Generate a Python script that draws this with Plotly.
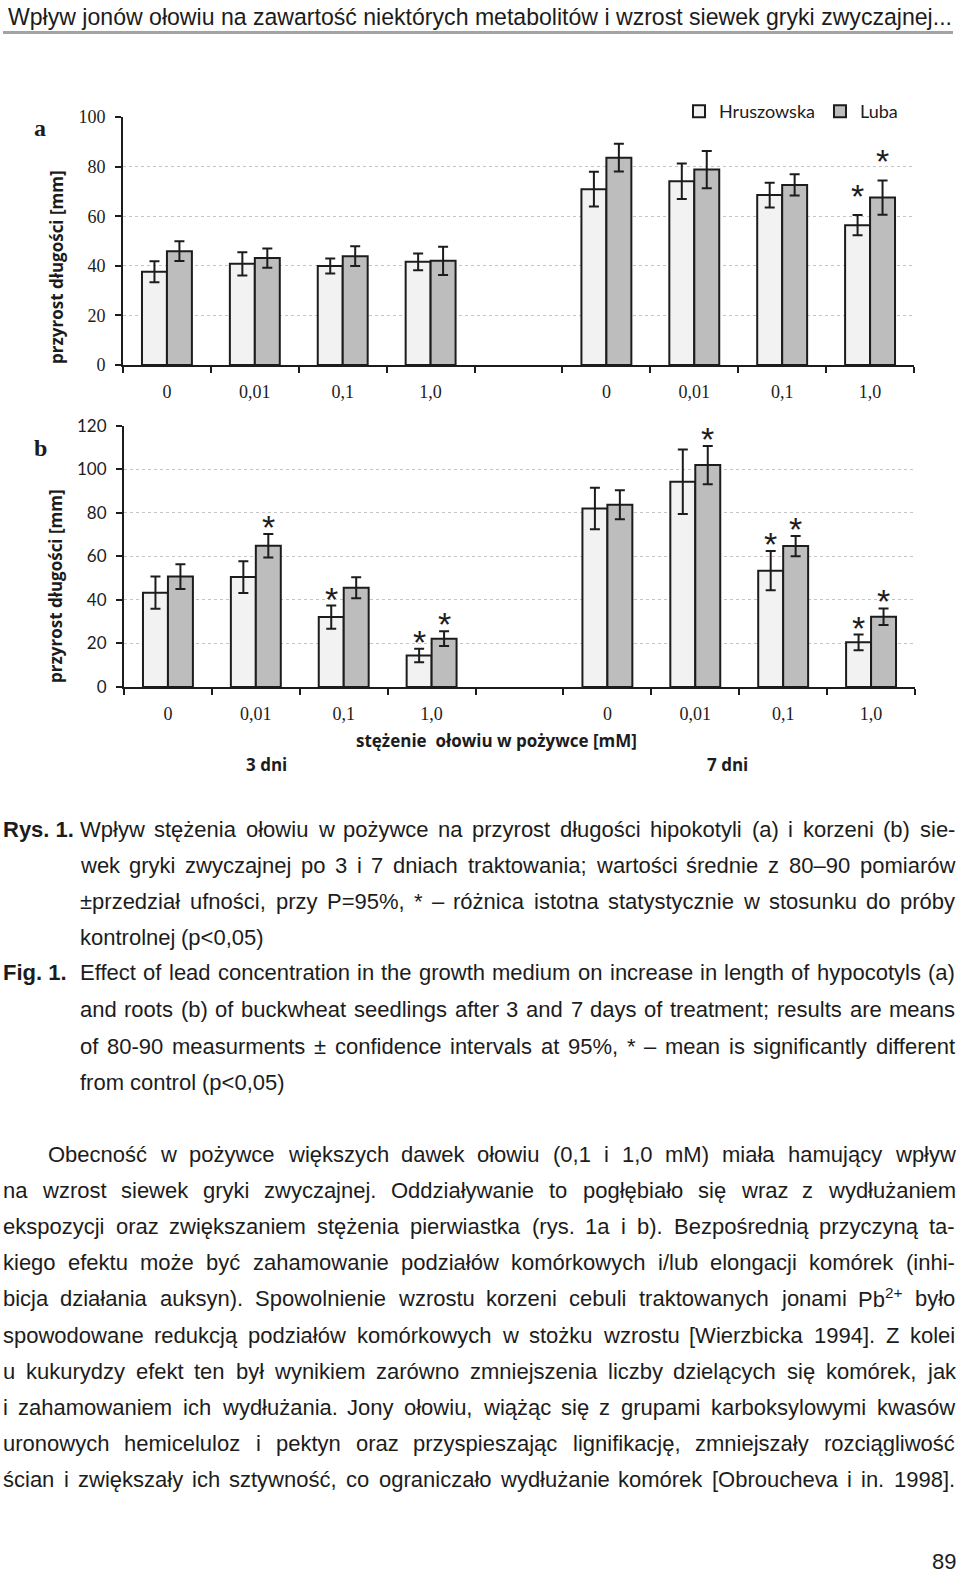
import re
import plotly.graph_objects as go

W, H = 960, 1577

# ---------------- data ----------------
conc_labels = ["0", "0,01", "0,1", "1,0"]
day_labels = ["3 dni", "7 dni"]
series_names = ["Hruszowska", "Luba"]

# (a) hypocotyl length increase [mm]: 3 dni (0, 0.01, 0.1, 1.0), then 7 dni
hypo_hrusz = [37.6, 40.8, 39.9, 41.6, 70.9, 74.1, 68.5, 56.4]
hypo_hrusz_ci = [4.2, 4.7, 3.0, 3.4, 7.0, 7.2, 5.0, 4.1]
hypo_luba = [45.9, 43.1, 43.9, 42.0, 83.6, 78.8, 72.6, 67.5]
hypo_luba_ci = [4.0, 3.9, 4.0, 5.7, 5.6, 7.5, 4.3, 6.9]
hypo_hrusz_sig = [0, 0, 0, 0, 0, 0, 0, 1]
hypo_luba_sig = [0, 0, 0, 0, 0, 0, 0, 1]

# (b) root length increase [mm]
root_hrusz = [43.3, 50.5, 32.1, 14.5, 82.0, 94.3, 53.4, 20.5]
root_hrusz_ci = [7.4, 7.3, 5.3, 3.1, 9.5, 14.8, 9.0, 3.6]
root_luba = [50.7, 64.9, 45.6, 22.2, 83.7, 101.9, 64.7, 32.3]
root_luba_ci = [5.7, 5.4, 4.8, 3.4, 6.7, 8.8, 4.6, 3.8]
root_hrusz_sig = [0, 0, 1, 1, 0, 0, 1, 1]
root_luba_sig = [0, 1, 0, 1, 0, 1, 1, 1]

header_text = "Wpływ jonów ołowiu na zawartość niektórych metabolitów i wzrost siewek gryki zwyczajnej..."
caption_pl = [
    "Wpływ stężenia ołowiu w pożywce na przyrost długości hipokotyli (a) i korzeni (b) sie-",
    "wek gryki zwyczajnej po 3 i 7 dniach traktowania; wartości średnie z 80–90 pomiarów",
    "±przedział ufności, przy P=95%, * – różnica istotna statystycznie w stosunku do próby",
    "kontrolnej (p<0,05)",
]
caption_en = [
    "Effect of lead concentration in the growth medium on increase in length of hypocotyls (a)",
    "and roots (b) of buckwheat seedlings after 3 and 7 days of treatment; results are means",
    "of 80-90 measurments ± confidence intervals at 95%, * – mean is significantly different",
    "from control (p<0,05)",
]
body = [
    "Obecność w pożywce większych dawek ołowiu (0,1 i 1,0 mM) miała hamujący wpływ",
    "na wzrost siewek gryki zwyczajnej. Oddziaływanie to pogłębiało się wraz z wydłużaniem",
    "ekspozycji oraz zwiększaniem stężenia pierwiastka (rys. 1a i b). Bezpośrednią przyczyną ta-",
    "kiego efektu może być zahamowanie podziałów komórkowych i/lub elongacji komórek (inhi-",
    "bicja działania auksyn). Spowolnienie wzrostu korzeni cebuli traktowanych jonami Pb<sup>2+</sup> było",
    "spowodowane redukcją podziałów komórkowych w stożku wzrostu [Wierzbicka 1994]. Z kolei",
    "u kukurydzy efekt ten był wynikiem zarówno zmniejszenia liczby dzielących się komórek, jak",
    "i zahamowaniem ich wydłużania. Jony ołowiu, wiążąc się z grupami karboksylowymi kwasów",
    "uronowych hemiceluloz i pektyn oraz przyspieszając lignifikację, zmniejszały rozciągliwość",
    "ścian i zwiększały ich sztywność, co ograniczało wydłużanie komórek [Obroucheva i in. 1998].",
]
page_number = "89"

# ---------------- fonts / helpers ----------------
SANS = "Liberation Sans, Arial, sans-serif"
SERIF = "Liberation Serif, Times New Roman, serif"
CAL = "Lato, Open Sans, sans-serif"
OPEN = "Open Sans, Lato, sans-serif"
INK = "#1c1c1c"

CW = {' ': 278, '!': 278, '"': 355, '#': 556, '$': 556, '%': 889, '&': 667, "'": 191,
      '(': 333, ')': 333, '*': 389, '+': 584, ',': 278, '-': 333, '.': 278, '/': 278,
      ':': 278, ';': 278, '<': 584, '=': 584, '>': 584, '?': 556, '[': 278, ']': 278,
      '±': 584, '–': 556,
      'A': 667, 'B': 667, 'C': 722, 'D': 722, 'E': 667, 'F': 611, 'G': 778, 'H': 722,
      'I': 278, 'J': 500, 'K': 667, 'L': 556, 'M': 833, 'N': 722, 'O': 778, 'P': 667,
      'Q': 778, 'R': 722, 'S': 667, 'T': 611, 'U': 722, 'V': 667, 'W': 944, 'X': 667,
      'Y': 667, 'Z': 611,
      'a': 556, 'b': 556, 'c': 500, 'd': 556, 'e': 556, 'f': 278, 'g': 556, 'h': 556,
      'i': 222, 'j': 222, 'k': 500, 'l': 222, 'm': 833, 'n': 556, 'o': 556, 'p': 556,
      'q': 556, 'r': 333, 's': 500, 't': 278, 'u': 556, 'v': 500, 'w': 722, 'x': 500,
      'y': 500, 'z': 500,
      'ą': 556, 'ć': 500, 'ę': 556, 'ł': 222, 'ń': 556, 'ó': 556, 'ś': 500, 'ź': 500,
      'ż': 500, 'Ś': 667, 'Ł': 556, 'Ż': 611}
for d in "0123456789":
    CW[d] = 556


def em(s):
    return sum(CW.get(c, 556) for c in s) / 1000.0


def word_w(w, size):
    tot = 0.0
    for p in re.split(r'(<sup>.*?</sup>)', w):
        if p.startswith('<sup>'):
            tot += em(p[5:-6]) * size * 0.7
        else:
            tot += em(p) * size
    return tot


annotations = []


def px_ann(text, x, y, size, family=SANS, xanchor='left', color=INK, weight='normal', angle=0):
    annotations.append(dict(text=text, x=x / W, y=1 - y / H, xref='paper', yref='paper',
                            xanchor=xanchor, yanchor='middle', showarrow=False,
                            borderpad=0, borderwidth=0, textangle=angle,
                            font=dict(family=family, size=size, color=color, weight=weight)))


def text_line(text, x_left, x_right, y, size, justify=True):
    words = text.split(' ')
    widths = [word_w(w, size) for w in words]
    if justify and len(words) > 1:
        gap = (x_right - x_left - sum(widths)) / (len(words) - 1)
        gap = max(gap, 0.2 * size)
    else:
        gap = em(' ') * size
    x = x_left
    for w, wd in zip(words, widths):
        px_ann(w, x, y, size)
        x += wd + gap


# ---------------- figure ----------------
fig = go.Figure()
x_pos = [i for i in range(4)] + [5 + i for i in range(4)]
fills = ["#f1f2f1", "#bdbdbd"]

panels = [
    ("x", "y", [hypo_hrusz, hypo_luba], [hypo_hrusz_ci, hypo_luba_ci],
     [hypo_hrusz_sig, hypo_luba_sig], 19),
    ("x2", "y2", [root_hrusz, root_luba], [root_hrusz_ci, root_luba_ci],
     [root_hrusz_sig, root_luba_sig], 7),
]
half = 0.142
for pi, (xa, ya, vals, cis, sigs, star_shift) in enumerate(panels):
    for si in range(2):
        fig.add_trace(go.Bar(
            x=x_pos, y=vals[si], name=series_names[si], xaxis=xa, yaxis=ya,
            marker=dict(color=fills[si], line=dict(color=INK, width=2)),
            error_y=dict(type='data', array=cis[si], color=INK, thickness=2, width=5),
            showlegend=(pi == 0), legendgroup=series_names[si]))
        for k in range(len(x_pos)):
            if sigs[si][k]:
                annotations.append(dict(
                    text="*", x=x_pos[k] + (-half if si == 0 else half),
                    y=vals[si][k] + cis[si][k], xref=xa, yref=ya,
                    xanchor='center', yanchor='middle', yshift=star_shift,
                    showarrow=False, font=dict(family=SANS, size=34, color=INK)))

tickx = dict(range=[-0.5, 8.5], tickmode='array', tickvals=x_pos,
             ticktext=conc_labels * 2, ticks='', showline=True, linecolor=INK,
             linewidth=2, showgrid=False, zeroline=False, ticklabelstandoff=9,
             automargin=False,
             tickfont=dict(family=SERIF, size=18, color=INK),
             minor=dict(tickmode='array', tickvals=[i - 0.5 for i in range(10)],
                        ticks='outside', ticklen=6, tickcolor=INK, tickwidth=1.5,
                        showgrid=False))
ticky = dict(showline=True, linecolor=INK, linewidth=2, ticks='outside', ticklen=6,
             tickcolor=INK, tickwidth=1.5, showgrid=True, gridcolor='#c4c4c4',
             griddash='dot', gridwidth=1, zeroline=False, dtick=20, ticklabelstandoff=6,
             automargin=False)

fig.update_layout(
    width=W, height=H, margin=dict(l=0, r=0, t=0, b=0, pad=0, autoexpand=False),
    paper_bgcolor='white', plot_bgcolor='white',
    barmode='group', bargap=0.432, bargroupgap=0,
    xaxis=dict(domain=[123 / W, 914 / W], anchor='y', **tickx),
    yaxis=dict(domain=[1 - 365 / H, 1 - 117 / H], anchor='x', range=[0, 100],
               tickfont=dict(family=SERIF, size=18, color=INK), **ticky),
    xaxis2=dict(domain=[124 / W, 915 / W], anchor='y2', **tickx),
    yaxis2=dict(domain=[1 - 687 / H, 1 - 425.7 / H], anchor='x2', range=[0, 120],
                tickfont=dict(family=CAL, size=17, color=INK), **ticky),
    legend=dict(orientation='h', x=679 / W, y=1 - 93 / H, xanchor='left', yanchor='top',
                font=dict(family=CAL, size=18, color=INK), bgcolor='rgba(0,0,0,0)',
                traceorder='normal', itemwidth=30),
    showlegend=True,
)

# header
hsize = 944 / em(header_text)
px_ann(header_text, 8, 17, round(hsize, 2))
fig.add_shape(type='line', xref='paper', yref='paper', x0=3 / W, x1=953 / W,
              y0=1 - 32.5 / H, y1=1 - 32.5 / H, line=dict(color='#a3a3a3', width=3))

# panel labels & axis titles
px_ann("a", 40, 128, 24, family=SERIF, xanchor='center', weight='bold')
px_ann("b", 40, 448, 24, family=SERIF, xanchor='center', weight='bold')
px_ann("przyrost długości [mm]", 56, 267, 17, family=OPEN, xanchor='center', weight='bold', angle=-90)
px_ann("przyrost długości [mm]", 56, 586, 17, family=OPEN, xanchor='center', weight='bold', angle=-90)
px_ann("stężenie\u00a0 ołowiu w pożywce [mM]", 496, 740, 17, family=OPEN, xanchor='center', weight='bold')
px_ann(day_labels[0], 266, 764, 17, family=OPEN, xanchor='center', weight='bold')
px_ann(day_labels[1], 727, 764, 17, family=OPEN, xanchor='center', weight='bold')

# caption
FS = 22
cap_y = [829, 865, 901, 937, 973, 1009, 1046, 1082]
px_ann("Rys. 1.", 3, cap_y[0], FS, weight='bold')
px_ann("Fig. 1.", 3, cap_y[4], FS, weight='bold')
for i, line in enumerate(caption_pl):
    text_line(line, 80, 955, cap_y[i], FS, justify=(i < len(caption_pl) - 1))
for i, line in enumerate(caption_en):
    text_line(line, 80, 955, cap_y[4 + i], FS, justify=(i < len(caption_en) - 1))

# body
body_y = [1154, 1190, 1226, 1262, 1298, 1335, 1371, 1407, 1443, 1479]
for i, line in enumerate(body):
    text_line(line, 48 if i == 0 else 3, 955, body_y[i], FS, justify=True)

px_ann(page_number, 956, 1561, FS, xanchor='right')

fig.update_layout(annotations=annotations)
fig.write_html(
    "out.html",
    config={"displayModeBar": False},
    post_script="document.body.style.margin='0';document.documentElement.style.overflow='hidden';document.body.style.overflow='hidden';",
)
